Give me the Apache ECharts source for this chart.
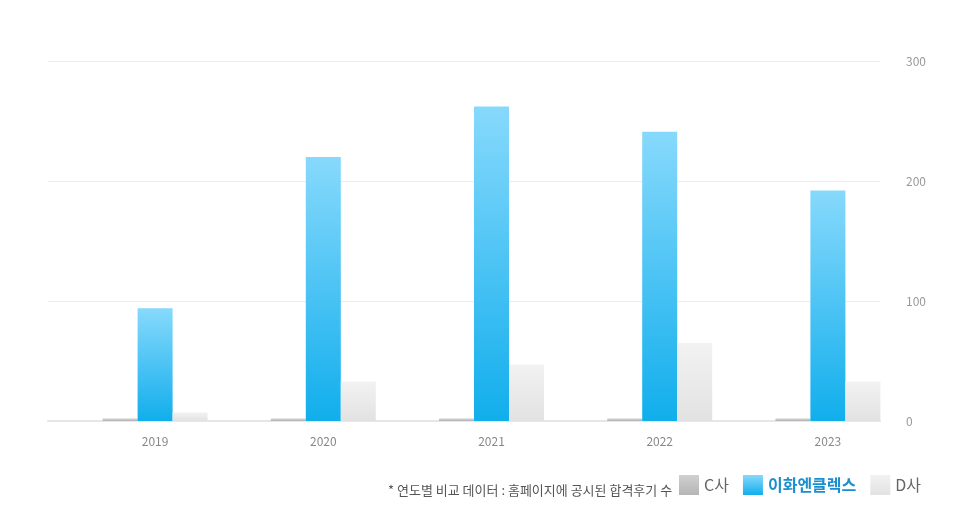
<!DOCTYPE html><html><head><meta charset="utf-8"><script src="https://cdn.jsdelivr.net/npm/echarts@6/dist/echarts.min.js"></script></head><body style="margin:0"><div id="c" style="width:970px;height:530px"></div><script>
const years=['2019','2020','2021','2022','2023'];
const cData=[2,2,2,2,2];
const ihwaData=[94,220,262,241,192];
const dData=[7,33,47,65,33];
const F='"Noto Sans CJK KR","Noto Sans",sans-serif';
const g=(a,b)=>new echarts.graphic.LinearGradient(0,0,0,1,[{offset:0,color:a},{offset:1,color:b}]);
const ch=echarts.init(document.getElementById('c'));
ch.setOption({
grid:[{left:48,right:90,top:61,bottom:109},{left:71,right:58,top:61,bottom:109}],
xAxis:[{type:'category',gridIndex:0,data:years,axisLine:{lineStyle:{color:'#e6e6e6',width:2}},axisTick:{show:false},axisLabel:{show:false}},
{type:'category',gridIndex:1,data:years,axisLine:{show:false},axisTick:{show:false},axisLabel:{color:'#888',fontSize:12,fontFamily:F,margin:14}}],
yAxis:[{type:'value',gridIndex:0,position:'right',min:0,max:300,interval:100,axisLine:{show:false},axisTick:{show:false},splitLine:{lineStyle:{color:'#ececec'}},axisLabel:{color:'#999',fontSize:12,fontFamily:F,margin:26}},
{type:'value',gridIndex:1,min:0,max:300,interval:100,show:false}],
legend:{right:44,bottom:30,itemWidth:20,itemHeight:20,itemGap:14,icon:'rect',textStyle:{fontFamily:F,fontSize:16,color:'#666'},
 data:[{name:'C사'},{name:'이화엔클렉스',textStyle:{color:'#1a8fd0',fontWeight:'bold'}},{name:'D사'}]},
graphic:[{type:'text',left:388,bottom:33,style:{text:'* 연도별 비교 데이터 : 홈페이지에 공시된 합격후기 수',font:'13px '+F,fill:'#555'}}],
series:[
{name:'C사',type:'bar',xAxisIndex:1,yAxisIndex:1,data:cData,barWidth:35,barGap:'0%',itemStyle:{color:g('#d0d0d0','#b5b5b5')}},
{name:'이화엔클렉스',type:'bar',xAxisIndex:1,yAxisIndex:1,data:ihwaData,barWidth:35,itemStyle:{color:g('#87d9fc','#11aeec')}},
{name:'D사',type:'bar',xAxisIndex:1,yAxisIndex:1,data:dData,barWidth:35,itemStyle:{color:g('#f2f2f2','#e2e2e2')}}
]});
</script></body></html>
